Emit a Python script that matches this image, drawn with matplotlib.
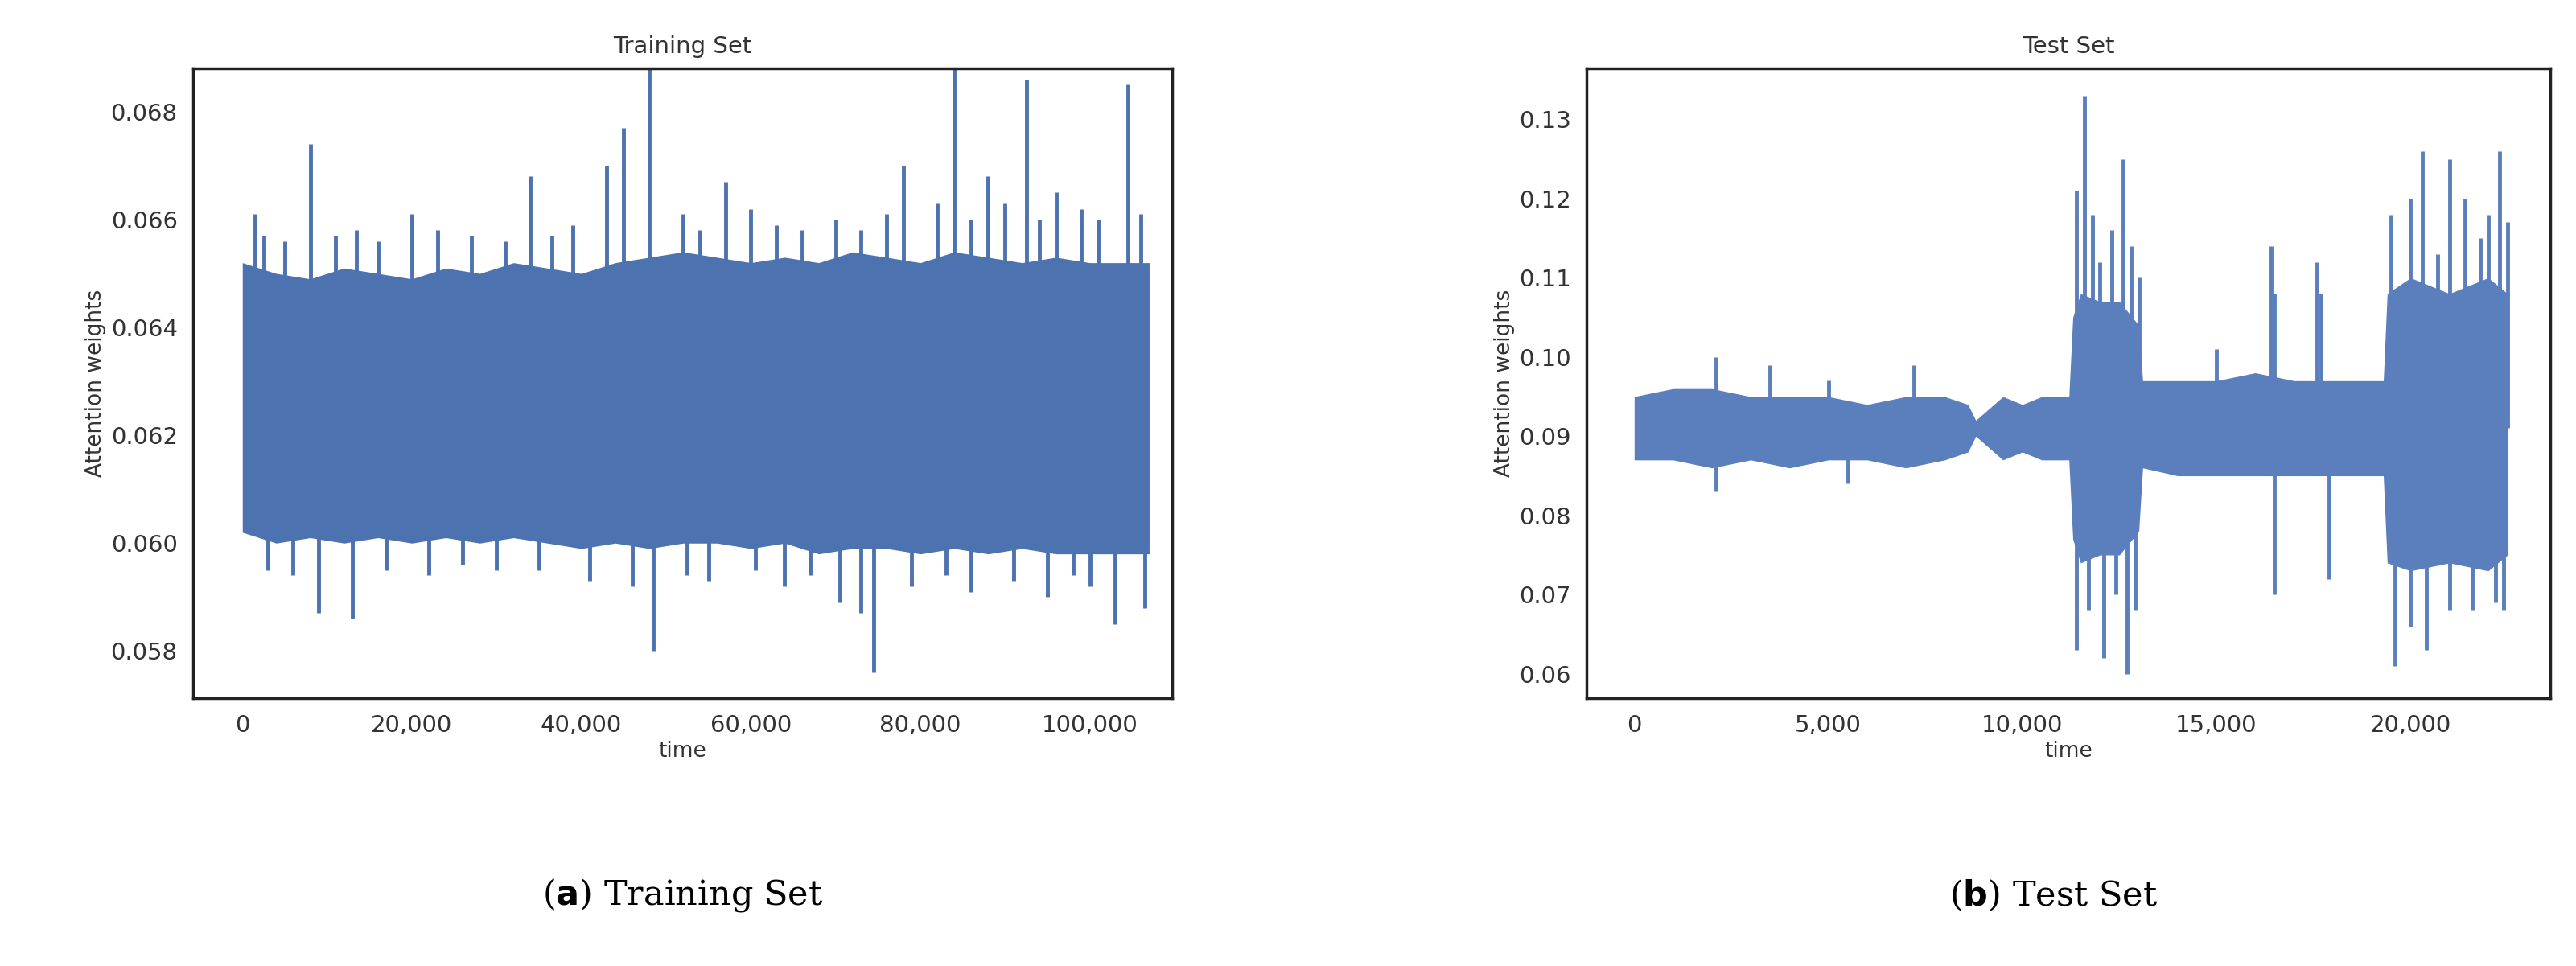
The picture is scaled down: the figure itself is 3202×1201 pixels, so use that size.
import matplotlib
matplotlib.use("Agg")
import matplotlib.pyplot as plt
from matplotlib.ticker import FuncFormatter, MultipleLocator

# ---- Training set: base band + individual spikes ----
train_x = list(range(0, 108000, 4000)) + [107000]
train_hi = [0.0652,0.0650,0.0649,0.0651,0.0650,0.0649,0.0651,0.0650,0.0652,0.0651,0.0650,0.0652,0.0653,0.0654,
            0.0653,0.0652,0.0653,0.0652,0.0654,0.0653,0.0652,0.0654,0.0653,0.0652,0.0653,0.0652,0.0652,0.0652]
train_lo = [0.0602,0.0600,0.0601,0.0600,0.0601,0.0600,0.0601,0.0600,0.0601,0.0600,0.0599,0.0600,0.0599,0.0600,
            0.0600,0.0599,0.0600,0.0598,0.0599,0.0599,0.0598,0.0599,0.0598,0.0599,0.0598,0.0598,0.0598,0.0598]
train_spk_x = [1500,2500,5000,8000,11000,13500,16000,20000,23000,27000,31000,34000,36500,39000,43000,45000,48000,
               52000,54000,57000,60000,63000,66000,70000,73000,76000,78000,82000,84000,86000,88000,90000,92500,
               94000,96000,99000,101000,104500,106000,
               3000,6000,9000,13000,17000,22000,26000,30000,35000,41000,46000,48500,52500,55000,60500,64000,
               67000,70500,73000,74500,79000,83000,86000,91000,95000,98000,100000,103000,106500]
train_spk_y = [0.0661,0.0657,0.0656,0.0674,0.0657,0.0658,0.0656,0.0661,0.0658,0.0657,0.0656,0.0668,0.0657,
               0.0659,0.0670,0.0677,0.0690,0.0661,0.0658,0.0667,0.0662,0.0659,0.0658,0.0660,0.0658,0.0661,
               0.0670,0.0663,0.0693,0.0660,0.0668,0.0663,0.0686,0.0660,0.0665,0.0662,0.0660,0.0685,0.0661,
               0.0595,0.0594,0.0587,0.0586,0.0595,0.0594,0.0596,0.0595,0.0595,0.0593,0.0592,0.0580,0.0594,
               0.0593,0.0595,0.0592,0.0594,0.0589,0.0587,0.0576,0.0592,0.0594,0.0591,0.0593,0.0590,0.0594,
               0.0592,0.0585,0.0588]

# ---- Test set ----
test_x = [0,1000,2000,3000,4000,5000,6000,7000,8000,8600,8800,9500,10000,10500,11200,11300,11500,12000,12500,
          13000,13100,14000,15000,16000,17000,18000,19000,19300,19400,20000,21000,22000,22500]
test_hi = [0.095,0.096,0.096,0.095,0.095,0.095,0.094,0.095,0.095,0.094,0.092,0.095,0.094,0.095,0.095,0.105,
           0.108,0.107,0.107,0.104,0.097,0.097,0.097,0.098,0.097,0.097,0.097,0.097,0.108,0.110,0.108,0.110,0.108]
test_lo = [0.087,0.087,0.086,0.087,0.086,0.087,0.087,0.086,0.087,0.088,0.090,0.087,0.088,0.087,0.087,0.077,
           0.074,0.075,0.075,0.078,0.086,0.085,0.085,0.085,0.085,0.085,0.085,0.085,0.074,0.073,0.074,0.073,0.075]
test_spk_x = [2100,3500,5000,7200,11400,11600,11800,12000,12300,12600,12800,13000,15000,16400,16500,17600,17700,
              19500,20000,20300,20700,21000,21400,21800,22000,22300,22500,
              2100,5500,11400,11700,12100,12400,12700,12900,16500,17900,19600,20000,20400,21000,21600,22200,22400]
test_spk_y = [0.100,0.099,0.097,0.099,0.121,0.133,0.118,0.112,0.116,0.125,0.114,0.110,0.101,0.114,0.108,0.112,0.108,
              0.118,0.120,0.126,0.113,0.125,0.120,0.115,0.118,0.126,0.117,
              0.083,0.084,0.063,0.068,0.062,0.070,0.060,0.068,0.070,0.072,0.061,0.066,0.063,0.068,0.068,0.069,0.068]

fig = plt.figure(figsize=(32.02, 12.01), dpi=100)
ax1 = fig.add_axes([0.075, 0.277, 0.380, 0.652])
ax2 = fig.add_axes([0.616, 0.277, 0.374, 0.652])

def draw(ax, x, hi, lo, sx, sy, xlim, ylim, title, ystep, xstep, yfmt, mid, C):
    ax.fill_between(x, lo, hi, color=C, lw=0)
    for xi, yi in zip(sx, sy):
        ax.plot([xi, xi], [mid, yi], color=C, lw=3.5, solid_capstyle="butt")
    ax.set_xlim(*xlim); ax.set_ylim(*ylim)
    ax.xaxis.set_major_locator(MultipleLocator(xstep))
    ax.yaxis.set_major_locator(MultipleLocator(ystep))
    ax.xaxis.set_major_formatter(FuncFormatter(lambda v, p: f"{int(v):,}"))
    ax.yaxis.set_major_formatter(FuncFormatter(lambda v, p: format(v, yfmt)))
    ax.tick_params(labelsize=21, colors="#333333", length=0, pad=14)
    for s in ax.spines.values():
        s.set_color("#222222"); s.set_linewidth(2.5)
    ax.set_title(title, fontsize=21, color="#333333", pad=14)
    ax.set_xlabel("time", fontsize=19, color="#333333")
    ax.set_ylabel("Attention weights", fontsize=19, color="#333333")

draw(ax1, train_x, train_hi, train_lo, train_spk_x, train_spk_y, (-5800, 109700), (0.05712, 0.0688),
     "Training Set", 0.002, 20000, ".3f", 0.0625, "#4c72b0")
draw(ax2, test_x, test_hi, test_lo, test_spk_x, test_spk_y, (-1220, 23600), (0.0569, 0.1364),
     "Test Set", 0.01, 5000, ".2f", 0.091, "#5a7fbc")

fig.text(0.265, 0.073, r"($\mathbf{a}$) Training Set", ha="center", va="center", fontsize=31, family="DejaVu Serif")
fig.text(0.797, 0.073, r"($\mathbf{b}$) Test Set", ha="center", va="center", fontsize=31, family="DejaVu Serif")
fig.savefig("out.png", dpi=100, facecolor="white")
